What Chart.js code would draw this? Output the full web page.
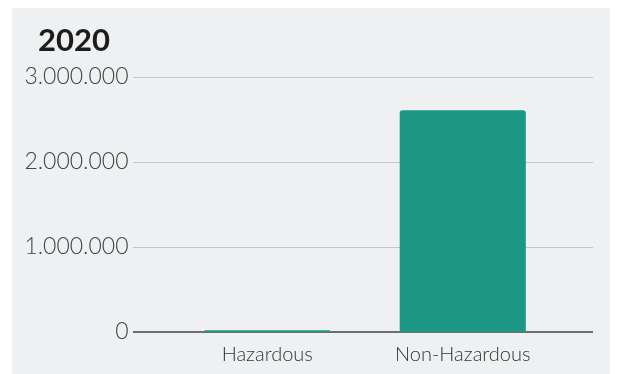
<!DOCTYPE html>
<html>
<head>
<meta charset="utf-8">
<script src="https://cdn.jsdelivr.net/npm/chart.js@4"></script>
<style>
  body { margin: 0; background: #fff; }
  #panel { position: absolute; left: 12px; top: 8px; width: 598px; height: 366px; background: #eef0f1; }
  canvas { display: block; }
</style>
</head>
<body>
<div id="panel"><canvas id="wasteChart" width="598" height="366"></canvas></div>
<script>
const year = '2020';
const categories = ['Hazardous', 'Non-Hazardous'];
const wasteTonnes = [22000, 2610000];
const yTicks = [0, 1000000, 2000000, 3000000];

const barColor = '#1b9783';
const labelFont = '"Lato", "DejaVu Sans", sans-serif';

// 3000000 -> "3.000.000"
const dotted = v => String(Math.round(v)).replace(/\B(?=(\d{3})+(?!\d))/g, '.');

// horizontal guides run a bit wider than the bar area
const guideLines = {
  id: 'guideLines',
  beforeDatasetsDraw(chart) {
    const { ctx, scales: { y } } = chart;
    ctx.save();
    y.ticks.forEach(t => {
      const py = Math.round(y.getPixelForValue(t.value));
      const isZero = t.value === 0;
      ctx.strokeStyle = isZero ? '#6e6e6e' : '#c3c5c6';
      ctx.lineWidth = isZero ? 2 : 1;
      ctx.beginPath();
      ctx.moveTo(121, isZero ? py : py + 0.5);
      ctx.lineTo(581, isZero ? py : py + 0.5);
      ctx.stroke();
    });
    ctx.restore();
  }
};

const yearLabel = {
  id: 'yearLabel',
  afterDraw(chart) {
    const { ctx } = chart;
    ctx.save();
    ctx.font = 'bold 31px ' + labelFont;
    ctx.fillStyle = '#1c1c1c';
    ctx.textAlign = 'left';
    ctx.textBaseline = 'alphabetic';
    ctx.fillText(year, 26, 43);
    ctx.restore();
  }
};

new Chart(document.getElementById('wasteChart'), {
  type: 'bar',
  data: {
    labels: categories,
    datasets: [{
      data: wasteTonnes,
      backgroundColor: barColor,
      borderRadius: 3,
      barPercentage: 0.645,
      categoryPercentage: 1
    }]
  },
  options: {
    responsive: false,
    animation: false,
    layout: { padding: { left: 10, right: 49.5, top: 69, bottom: 0 } },
    plugins: { legend: { display: false }, tooltip: { enabled: false } },
    scales: {
      x: {
        grid: { display: false, drawTicks: false },
        border: { display: false },
        ticks: { padding: 11, color: '#333', font: { family: labelFont, size: 20, weight: 300 } },
        afterFit: s => {
          s.height = 42;
          s.paddingLeft = s.paddingRight = 0;
        }
      },
      y: {
        min: 0,
        max: 3000000,
        afterBuildTicks: s => { s.ticks = yTicks.map(value => ({ value })); },
        grid: { display: false, drawTicks: false },
        border: { display: false },
        ticks: {
          padding: 41,
          color: '#444',
          font: { family: labelFont, size: 23, weight: 300 },
          callback: v => dotted(v)
        },
        afterFit: s => {
          s.width = 147.5;
          s.paddingTop = s.paddingBottom = 0;
        }
      }
    }
  },
  plugins: [guideLines, yearLabel]
});
</script>
</body>
</html>
